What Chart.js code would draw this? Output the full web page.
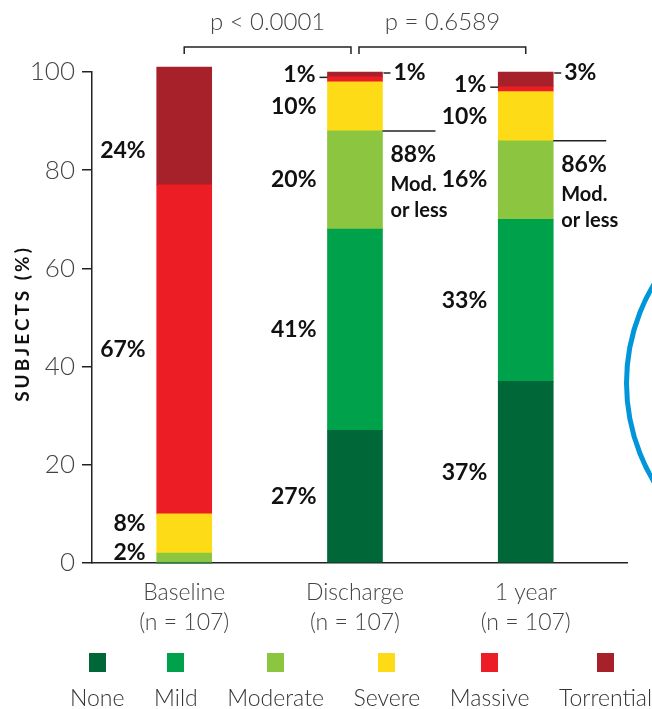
<!DOCTYPE html>
<html>
<head>
<meta charset="utf-8">
<script src="https://cdn.jsdelivr.net/npm/chart.js@4.4.1/dist/chart.umd.min.js"></script>
<style>
  body { margin: 0; background: #fff; font-family: Lato, 'Open Sans', sans-serif; }
  #wrap { position: relative; width: 652px; height: 709px; overflow: hidden; }
  #chart { position: absolute; left: 0; top: 0; }
  .ring { position: absolute; left: 624px; top: 189px; width: 388px; height: 388px;
          border: 5px solid #0096d9; border-radius: 50%; box-sizing: border-box; }
  #legend { position: absolute; left: 70px; width: 582px; top: 653px; display: flex; justify-content: space-between; }
  .item { display: flex; flex-direction: column; align-items: center; }
  .sw { width: 17px; height: 19px; margin-bottom: 14px; }
  .item span { font-size: 23px; font-weight: 300; line-height: 22px; color: #333; white-space: nowrap; }
</style>
</head>
<body>
<div id="wrap">
  <div class="ring"></div>
  <canvas id="chart" width="652" height="709"></canvas>
  <div id="legend"></div>
</div>
<script>
const categories = ['Baseline', 'Discharge', '1 year'];
const sampleSizes = [107, 107, 107];
const severityNames = ['None', 'Mild', 'Moderate', 'Severe', 'Massive', 'Torrential'];
const noneVals = [0, 27, 37];
const mildVals = [0, 41, 33];
const moderateVals = [2, 20, 16];
const severeVals = [8, 10, 10];
const massiveVals = [67, 1, 1];
const torrentialVals = [24, 1, 3];
const yTicks = [0, 20, 40, 60, 80, 100];
const pValues = ['p < 0.0001', 'p = 0.6589'];

const seriesVals = [noneVals, mildVals, moderateVals, severeVals, massiveVals, torrentialVals];
const severityColors = ['#006838', '#00a14b', '#8cc540', '#fddc17', '#ec1d25', '#a6212a'];

// legend under the chart: square on top, name below
let legendHtml = '';
severityNames.forEach((name, k) => {
  legendHtml += `<div class="item"><div class="sw" style="background:${severityColors[k]}"></div><span>${name}</span></div>`;
});
document.getElementById('legend').innerHTML = legendHtml;

const barWidth = 55;
const boldFont = (size) => `bold ${size}px Lato, sans-serif`;
const lightFont = (size) => `300 ${size}px Lato, sans-serif`;

// hand placed tweaks for labels that sit off their segment middle
const labelNudge = { '5-0': 25, '3-0': -10, '2-0': -6 };

const annotations = {
  id: 'annotations',
  afterDraw(chart) {
    const ctx = chart.ctx;
    const xs = chart.scales.x;
    const ys = chart.scales.y;
    const area = chart.chartArea;
    ctx.save();

    // y axis title
    ctx.save();
    ctx.translate(23, (area.top + area.bottom) / 2 + 6);
    ctx.rotate(-Math.PI / 2);
    ctx.font = boldFont(19);
    ctx.letterSpacing = '3px';
    ctx.fillStyle = '#111';
    ctx.textAlign = 'center';
    ctx.textBaseline = 'middle';
    ctx.fillText('SUBJECTS (%)', 0, 0);
    ctx.restore();

    ctx.strokeStyle = '#222';
    ctx.lineWidth = 1.5;
    ctx.fillStyle = '#111';
    ctx.textBaseline = 'middle';

    // segment labels
    categories.forEach((c, i) => {
      const cx = xs.getPixelForValue(i);
      const left = cx - barWidth / 2;
      const right = cx + barWidth / 2;
      let base = 0;
      seriesVals.forEach((vals, k) => {
        const v = vals[i];
        if (v === 0) return;
        const top = base + v;
        const yMid = ys.getPixelForValue(base + v / 2);
        const yTop = ys.getPixelForValue(top);
        ctx.font = boldFont(23);
        if (k === seriesVals.length - 1 && v < 5) {
          const y = yTop + 1;
          ctx.beginPath();
          ctx.moveTo(right + 1, y);
          ctx.lineTo(right + 8, y);
          ctx.stroke();
          ctx.textAlign = 'left';
          ctx.fillText(v + '%', right + 11, y);
        } else if (v < 2) {
          const y = yMid - 2;
          ctx.beginPath();
          ctx.moveTo(left - 8, y);
          ctx.lineTo(left, y);
          ctx.stroke();
          ctx.textAlign = 'right';
          ctx.fillText(v + '%', left - 12, y - 3);
        } else {
          const nudge = labelNudge[k + '-' + i] || 0;
          ctx.textAlign = 'right';
          ctx.fillText(v + '%', left - 11, yMid + nudge);
        }
        base = top;
      });

      // share with moderate or less
      if (noneVals[i] + mildVals[i] > 0) {
        const share = noneVals[i] + mildVals[i] + moderateVals[i];
        const y = ys.getPixelForValue(share);
        ctx.beginPath();
        ctx.moveTo(right, y);
        ctx.lineTo(right + 53, y);
        ctx.stroke();
        ctx.textAlign = 'left';
        ctx.font = boldFont(23);
        ctx.fillText(share + '%', right + 8, y + 24);
        ctx.font = boldFont(20);
        ctx.fillText('Mod.', right + 8, y + 54);
        ctx.fillText('or less', right + 8, y + 80);
      }
    });

    // p value brackets
    const by = 47;
    pValues.forEach((txt, j) => {
      let x1 = xs.getPixelForValue(j);
      let x2 = xs.getPixelForValue(j + 1);
      if (j > 0) x1 += 4;
      if (j < pValues.length - 1) x2 -= 4;
      ctx.beginPath();
      ctx.moveTo(x1, by + 7);
      ctx.lineTo(x1, by);
      ctx.lineTo(x2, by);
      ctx.lineTo(x2, by + 7);
      ctx.stroke();
      ctx.font = lightFont(24);
      ctx.fillStyle = '#444';
      ctx.textAlign = 'center';
      ctx.fillText(txt, (x1 + x2) / 2, 22);
      ctx.fillStyle = '#111';
    });
    ctx.restore();
  }
};

const datasets = severityNames.map((name, k) => ({
  label: name,
  data: seriesVals[k].map((v, i) => ({ x: i, y: v })),
  backgroundColor: severityColors[k],
  borderWidth: 0,
  barThickness: barWidth,
  clip: false
}));

new Chart(document.getElementById('chart'), {
  type: 'bar',
  data: { datasets: datasets },
  options: {
    responsive: false,
    animation: false,
    layout: { padding: { top: 72, right: 25, bottom: 56, left: 0 } },
    plugins: { legend: { display: false }, tooltip: { enabled: false } },
    scales: {
      x: {
        type: 'linear',
        stacked: true,
        offset: false,
        min: -0.54,
        max: 2.593,
        afterBuildTicks: (s) => { s.ticks = categories.map((c, i) => ({ value: i })); },
        afterFit: (s) => { s.height = 90; },
        grid: { display: false, offset: false },
        border: { display: true, color: '#222', width: 1.5 },
        ticks: {
          autoSkip: false,
          maxRotation: 0,
          padding: 7,
          color: '#444',
          font: { family: 'Lato', size: 23, weight: 300, lineHeight: 1.3 },
          callback: (v) => [categories[v], '(n = ' + sampleSizes[v] + ')']
        }
      },
      y: {
        stacked: true,
        min: 0,
        max: 100,
        afterBuildTicks: (s) => { s.ticks = yTicks.map((v) => ({ value: v })); },
        afterFit: (s) => { s.width = 92; },
        grid: { drawOnChartArea: false, drawTicks: true, tickLength: 10, color: '#222', lineWidth: 1.5 },
        border: { color: '#222', width: 1.5 },
        ticks: { padding: 7, color: '#444', font: { family: 'Lato', size: 26, weight: 300 } }
      }
    }
  },
  plugins: [annotations]
});
</script>
</body>
</html>
